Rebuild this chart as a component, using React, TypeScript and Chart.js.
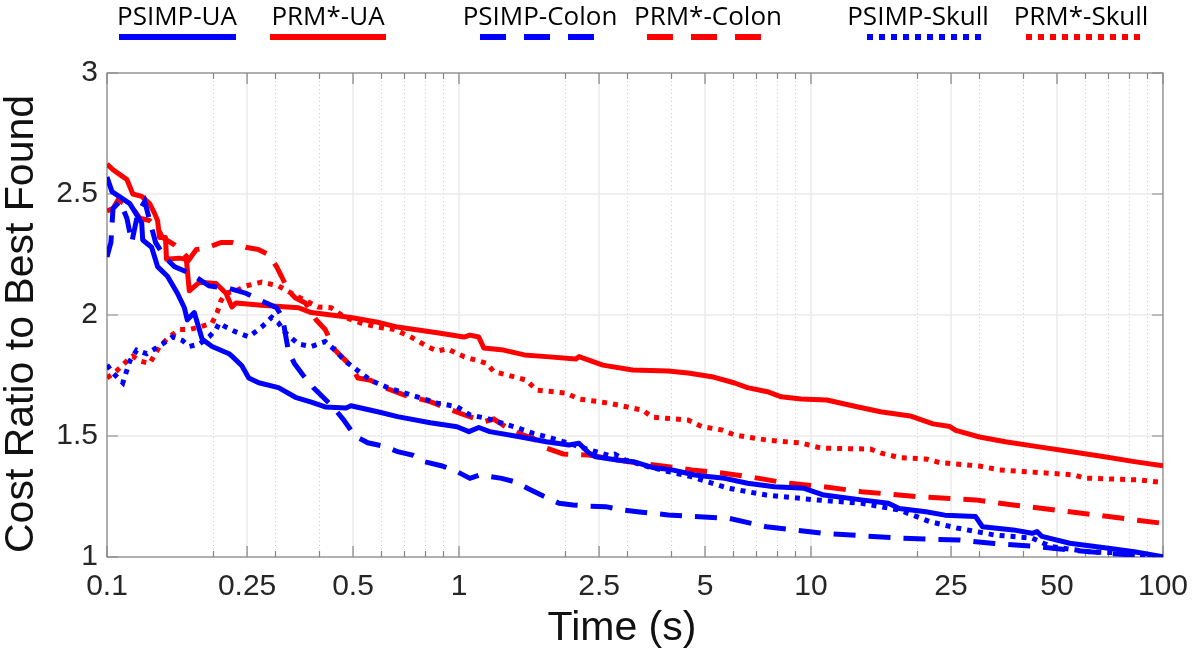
import { useEffect, useRef } from 'react';
import { Chart, registerables } from 'chart.js';

Chart.register(...registerables);

// ---------- data ----------
const xTickValues = [0.1, 0.25, 0.5, 1, 2.5, 5, 10, 25, 50, 100];
const xTickLabels = ['0.1', '0.25', '0.5', '1', '2.5', '5', '10', '25', '50', '100'];
const xMinorValues = [0.2, 0.3, 0.4, 0.6, 0.7, 0.8, 0.9, 2, 3, 4, 6, 7, 8, 9, 20, 30, 40, 60, 70, 80, 90];
const yTickValues = [1, 1.5, 2, 2.5, 3];
const yTickLabels = ['1', '1.5', '2', '2.5', '3'];

const seriesNames = ['PSIMP-UA', 'PRM*-UA', 'PSIMP-Colon', 'PRM*-Colon', 'PSIMP-Skull', 'PRM*-Skull'];

const psimpUaTime = [0.1, 0.1033, 0.1161, 0.1255, 0.1263, 0.1339, 0.1392, 0.1485, 0.1585, 0.1659, 0.1691, 0.177, 0.1864, 0.1989, 0.2222, 0.2264, 0.2416, 0.2528, 0.2698, 0.3071, 0.343, 0.3805, 0.4167, 0.4774, 0.4932, 0.5875, 0.669, 0.8287, 0.9872, 1.067, 1.138, 1.223, 1.485, 1.77, 2.054, 2.192, 2.339, 2.447, 2.841, 3.131, 3.543, 4.033, 4.681, 5.161, 5.688, 6.602, 7.868, 9.556, 10.88, 13.92, 16.59, 17.81, 21.22, 24.01, 29.35, 30.71, 37.55, 42.48, 43.87, 45.33, 54.36, 70.0, 82.87, 100];
const psimpUaCost = [2.57, 2.51, 2.46, 2.38, 2.31, 2.28, 2.20, 2.16, 2.09, 2.03, 1.98, 2.01, 1.90, 1.87, 1.84, 1.83, 1.79, 1.74, 1.72, 1.70, 1.66, 1.64, 1.62, 1.616, 1.625, 1.60, 1.58, 1.555, 1.538, 1.518, 1.535, 1.518, 1.497, 1.476, 1.463, 1.47, 1.43, 1.414, 1.40, 1.394, 1.37, 1.36, 1.339, 1.332, 1.325, 1.305, 1.29, 1.284, 1.256, 1.236, 1.222, 1.20, 1.187, 1.173, 1.167, 1.125, 1.112, 1.098, 1.105, 1.085, 1.057, 1.036, 1.022, 1.001];

const prmUaTime = [0.1, 0.104, 0.1088, 0.1139, 0.1184, 0.1255, 0.1322, 0.1365, 0.1392, 0.141, 0.1466, 0.1476, 0.1606, 0.168, 0.1713, 0.1828, 0.2041, 0.2178, 0.2264, 0.2324, 0.275, 0.3497, 0.3805, 0.4932, 0.5875, 0.669, 0.867, 1.033, 1.074, 1.138, 1.176, 1.339, 1.534, 1.77, 2.149, 2.192, 2.562, 3.112, 3.93, 4.474, 5.228, 6.069, 6.602, 7.518, 8.232, 9.371, 11.09, 13.22, 15.75, 19.13, 22.22, 24.8, 25.79, 30.12, 35.65, 44.45, 55.06, 68.21, 82.87, 100];
const prmUaCost = [2.624, 2.60, 2.58, 2.56, 2.50, 2.49, 2.46, 2.42, 2.39, 2.32, 2.32, 2.23, 2.235, 2.23, 2.10, 2.135, 2.13, 2.09, 2.033, 2.05, 2.04, 2.03, 2.01, 1.99, 1.97, 1.95, 1.927, 1.909, 1.917, 1.909, 1.864, 1.855, 1.835, 1.828, 1.818, 1.828, 1.793, 1.773, 1.769, 1.76, 1.745, 1.719, 1.70, 1.683, 1.662, 1.653, 1.649, 1.624, 1.60, 1.583, 1.55, 1.539, 1.523, 1.496, 1.476, 1.455, 1.435, 1.414, 1.394, 1.377];

const psimpColonTime = [0.1, 0.1026, 0.104, 0.1088, 0.1139, 0.1176, 0.1223, 0.128, 0.1322, 0.1374, 0.1457, 0.1554, 0.1736, 0.195, 0.2222, 0.248, 0.2733, 0.3032, 0.3152, 0.3277, 0.3407, 0.3612, 0.3854, 0.4112, 0.4387, 0.4683, 0.4899, 0.5061, 0.5506, 0.6186, 0.669, 0.7374, 0.7969, 0.8959, 0.9743, 1.074, 1.146, 1.322, 1.438, 1.585, 1.736, 1.925, 2.108, 2.339, 2.612, 2.916, 3.214, 3.566, 3.93, 4.681, 5.838, 7.468, 10.88, 17.81, 26.46, 33.19, 42.48, 54.36, 70.0, 100];
const psimpColonCost = [2.24, 2.30, 2.44, 2.47, 2.40, 2.30, 2.42, 2.47, 2.39, 2.30, 2.24, 2.20, 2.17, 2.12, 2.11, 2.09, 2.06, 2.03, 1.99, 1.85, 1.80, 1.75, 1.70, 1.66, 1.62, 1.57, 1.53, 1.50, 1.472, 1.456, 1.435, 1.421, 1.394, 1.376, 1.357, 1.325, 1.339, 1.325, 1.311, 1.28, 1.252, 1.222, 1.215, 1.21, 1.208, 1.194, 1.187, 1.18, 1.174, 1.167, 1.16, 1.125, 1.098, 1.078, 1.07, 1.056, 1.045, 1.029, 1.015, 1.0];

const prmColonTime = [0.1, 0.104, 0.1074, 0.1124, 0.1184, 0.1239, 0.1322, 0.1392, 0.1438, 0.1554, 0.1637, 0.1713, 0.1793, 0.1913, 0.2109, 0.2264, 0.248, 0.2698, 0.2879, 0.3032, 0.3131, 0.3277, 0.343, 0.366, 0.393, 0.4167, 0.4444, 0.4623, 0.4932, 0.5161, 0.5615, 0.6147, 0.7, 0.8287, 1.006, 1.176, 1.255, 1.428, 1.627, 1.77, 1.976, 2.339, 3.032, 3.78, 4.592, 5.578, 6.91, 8.393, 10.88, 13.92, 20.15, 29.35, 37.55, 54.36, 70.0, 100];
const prmColonCost = [2.43, 2.44, 2.475, 2.46, 2.44, 2.40, 2.39, 2.36, 2.32, 2.29, 2.26, 2.23, 2.27, 2.277, 2.30, 2.30, 2.28, 2.27, 2.25, 2.20, 2.16, 2.10, 2.07, 2.05, 1.98, 1.94, 1.855, 1.83, 1.79, 1.74, 1.73, 1.70, 1.669, 1.642, 1.594, 1.559, 1.57, 1.518, 1.49, 1.45, 1.426, 1.421, 1.394, 1.376, 1.36, 1.347, 1.328, 1.307, 1.29, 1.27, 1.249, 1.236, 1.215, 1.187, 1.167, 1.139];

const psimpSkullTime = [0.1, 0.104, 0.1109, 0.1161, 0.1215, 0.1297, 0.1348, 0.1438, 0.1535, 0.1637, 0.1713, 0.1828, 0.195, 0.2041, 0.2082, 0.2178, 0.2324, 0.2528, 0.275, 0.2935, 0.3071, 0.3214, 0.3497, 0.3805, 0.4167, 0.4444, 0.4745, 0.5161, 0.5615, 0.6269, 0.7278, 0.867, 0.9872, 1.074, 1.199, 1.428, 1.627, 1.77, 2.054, 2.192, 2.447, 2.663, 2.769, 2.973, 3.451, 3.93, 4.562, 4.898, 5.838, 7.468, 10.33, 13.92, 17.81, 21.78, 25.96, 33.19, 42.48, 48.05, 61.47, 79.17, 100];
const psimpSkullCost = [1.793, 1.76, 1.72, 1.81, 1.855, 1.84, 1.855, 1.88, 1.91, 1.895, 1.87, 1.88, 1.91, 1.94, 1.967, 1.95, 1.93, 1.91, 1.95, 1.99, 1.967, 1.926, 1.88, 1.87, 1.89, 1.855, 1.81, 1.77, 1.73, 1.70, 1.67, 1.636, 1.621, 1.587, 1.573, 1.539, 1.511, 1.497, 1.47, 1.456, 1.435, 1.42, 1.425, 1.40, 1.373, 1.353, 1.332, 1.318, 1.284, 1.256, 1.236, 1.222, 1.194, 1.146, 1.12, 1.091, 1.078, 1.043, 1.022, 1.016, 1.0];

const prmSkullTime = [0.1, 0.1067, 0.1139, 0.1184, 0.1239, 0.1322, 0.141, 0.1505, 0.1606, 0.1713, 0.1828, 0.1989, 0.2055, 0.2109, 0.2178, 0.2324, 0.248, 0.275, 0.3071, 0.3341, 0.366, 0.3981, 0.433, 0.4745, 0.5262, 0.5875, 0.656, 0.7278, 0.8126, 0.867, 0.9251, 1.033, 1.199, 1.255, 1.554, 1.659, 2.015, 2.192, 2.663, 3.32, 3.543, 4.474, 4.898, 5.578, 6.069, 7.518, 9.371, 10.67, 14.76, 15.75, 17.93, 21.22, 23.24, 30.12, 34.3, 56.15, 59.92, 86.7, 100];
const prmSkullCost = [1.74, 1.77, 1.81, 1.83, 1.81, 1.80, 1.87, 1.91, 1.94, 1.94, 1.95, 1.967, 2.01, 2.06, 2.09, 2.10, 2.12, 2.136, 2.12, 2.09, 2.06, 2.033, 2.03, 1.99, 1.967, 1.95, 1.94, 1.91, 1.87, 1.851, 1.86, 1.828, 1.80, 1.766, 1.731, 1.69, 1.677, 1.653, 1.636, 1.607, 1.578, 1.566, 1.539, 1.525, 1.504, 1.483, 1.471, 1.45, 1.446, 1.43, 1.41, 1.405, 1.39, 1.376, 1.36, 1.339, 1.326, 1.318, 1.307];

// ---------- styles ----------
const BLUE = '#0000ff';
const RED = '#ff0000';
const SOLID: number[] = [];
const DASHED = [22, 13];
const DOTTED = [5, 6];

const toPoints = (t: number[], c: number[]) => t.map((v, i) => ({ x: v, y: c[i] }));

const legendLayout = [
  { name: seriesNames[0], color: BLUE, dash: SOLID, textX: 177, x0: 119, x1: 236 },
  { name: seriesNames[1], color: RED, dash: SOLID, textX: 328, x0: 270, x1: 386 },
  { name: seriesNames[2], color: BLUE, dash: [26, 18], textX: 540, x0: 480, x1: 594 },
  { name: seriesNames[3], color: RED, dash: [26, 18], textX: 708, x0: 647, x1: 761 },
  { name: seriesNames[4], color: BLUE, dash: [6, 6], textX: 918, x0: 867, x1: 983 },
  { name: seriesNames[5], color: RED, dash: [6, 6], textX: 1081, x0: 1026, x1: 1142 },
];

const axesPlugin = {
  id: 'matlabAxes',
  beforeDatasetsDraw(chart: any) {
    const { ctx, chartArea: a, scales } = chart;
    const xs = scales.x;
    const ys = scales.y;
    ctx.save();
    // minor dotted grid
    ctx.lineWidth = 1;
    ctx.strokeStyle = '#cfcfcf';
    ctx.setLineDash([1, 3]);
    for (const v of xMinorValues) {
      const px = Math.round(xs.getPixelForValue(v)) + 0.5;
      ctx.beginPath();
      ctx.moveTo(px, a.top);
      ctx.lineTo(px, a.bottom);
      ctx.stroke();
    }
    ctx.setLineDash([]);
    // major grid
    ctx.strokeStyle = '#ebebeb';
    ctx.lineWidth = 1.5;
    for (const v of xTickValues) {
      const px = xs.getPixelForValue(v);
      ctx.beginPath();
      ctx.moveTo(px, a.top);
      ctx.lineTo(px, a.bottom);
      ctx.stroke();
    }
    for (const v of yTickValues) {
      const py = ys.getPixelForValue(v);
      ctx.beginPath();
      ctx.moveTo(a.left, py);
      ctx.lineTo(a.right, py);
      ctx.stroke();
    }
    // box
    ctx.strokeStyle = '#858585';
    ctx.lineWidth = 1.2;
    ctx.strokeRect(a.left, a.top, a.right - a.left, a.bottom - a.top);
    // tick marks (inside)
    ctx.beginPath();
    for (const v of xTickValues) {
      const px = xs.getPixelForValue(v);
      ctx.moveTo(px, a.bottom); ctx.lineTo(px, a.bottom - 11);
      ctx.moveTo(px, a.top); ctx.lineTo(px, a.top + 11);
    }
    for (const v of xMinorValues) {
      const px = Math.round(xs.getPixelForValue(v)) + 0.5;
      ctx.moveTo(px, a.bottom); ctx.lineTo(px, a.bottom - 6);
      ctx.moveTo(px, a.top); ctx.lineTo(px, a.top + 6);
    }
    for (const v of yTickValues) {
      const py = ys.getPixelForValue(v);
      ctx.moveTo(a.left, py); ctx.lineTo(a.left + 11, py);
      ctx.moveTo(a.right, py); ctx.lineTo(a.right - 11, py);
    }
    ctx.stroke();
    ctx.restore();
  },
  afterDraw(chart: any) {
    const { ctx } = chart;
    ctx.save();
    // axis titles
    ctx.fillStyle = '#111111';
    ctx.font = '41px "Liberation Sans", Arial, sans-serif';
    ctx.textAlign = 'center';
    ctx.textBaseline = 'alphabetic';
    ctx.fillText('Time (s)', 622, 640);
    ctx.save();
    ctx.translate(33, 324);
    ctx.rotate(-Math.PI / 2);
    ctx.fillText('Cost Ratio to Best Found', 0, 0);
    ctx.restore();
    // legend
    ctx.font = '26px "Open Sans", sans-serif';
    ctx.fillStyle = '#000000';
    for (const item of legendLayout) {
      ctx.fillText(item.name, item.textX, 25);
      ctx.beginPath();
      ctx.strokeStyle = item.color;
      ctx.lineWidth = 6;
      ctx.lineCap = 'butt';
      ctx.setLineDash(item.dash);
      ctx.moveTo(item.x0, 37);
      ctx.lineTo(item.x1, 37);
      ctx.stroke();
    }
    ctx.restore();
  },
};

export default function App() {
  const ref = useRef<HTMLCanvasElement | null>(null);

  useEffect(() => {
    if (!ref.current) return;
    const mk = (label: string, t: number[], c: number[], color: string, dash: number[], width: number) => ({
      label,
      data: toPoints(t, c),
      borderColor: color,
      backgroundColor: color,
      borderWidth: width,
      borderDash: dash,
      borderCapStyle: 'butt' as const,
      borderJoinStyle: (dash.length ? 'miter' : 'round') as any,
      pointRadius: 0,
      tension: 0,
      fill: false,
    });
    const chart = new Chart(ref.current, {
      type: 'line',
      data: {
        datasets: [
          mk(seriesNames[0], psimpUaTime, psimpUaCost, BLUE, SOLID, 5),
          mk(seriesNames[4], psimpSkullTime, psimpSkullCost, BLUE, DOTTED, 5),
          mk(seriesNames[2], psimpColonTime, psimpColonCost, BLUE, DASHED, 5),
          mk(seriesNames[1], prmUaTime, prmUaCost, RED, SOLID, 5),
          mk(seriesNames[5], prmSkullTime, prmSkullCost, RED, DOTTED, 5),
          mk(seriesNames[3], prmColonTime, prmColonCost, RED, DASHED, 5),
        ],
      },
      options: {
        responsive: false,
        animation: false,
        devicePixelRatio: 1,
        layout: { padding: { left: 0, right: 28, top: 73, bottom: 0 } },
        plugins: { legend: { display: false }, tooltip: { enabled: false }, title: { display: false } },
        scales: {
          x: {
            type: 'logarithmic',
            min: 0.1,
            max: 100,
            afterBuildTicks: (s: any) => { s.ticks = xTickValues.map((v) => ({ value: v })); },
            afterFit: (s: any) => { s.height = 94; },
            grid: { display: false, drawTicks: false },
            border: { display: false },
            ticks: {
              autoSkip: false,
              maxRotation: 0,
              padding: 12,
              color: '#262626',
              font: { family: '"Liberation Sans", Arial, sans-serif', size: 30 },
              callback: (_v: any, i: number) => xTickLabels[i],
            },
          },
          y: {
            type: 'linear',
            min: 1,
            max: 3,
            afterBuildTicks: (s: any) => { s.ticks = yTickValues.map((v) => ({ value: v })); },
            afterFit: (s: any) => { s.width = 107; },
            grid: { display: false, drawTicks: false },
            border: { display: false },
            ticks: {
              padding: 9,
              color: '#262626',
              font: { family: '"Liberation Sans", Arial, sans-serif', size: 30 },
              callback: (_v: any, i: number) => yTickLabels[i],
            },
          },
        },
      },
      plugins: [axesPlugin],
    });
    return () => chart.destroy();
  }, []);

  return (
    <div style={{ position: 'absolute', left: 0, top: 0, width: 1200, height: 651, background: '#ffffff' }}>
      <canvas ref={ref} width={1200} height={651} style={{ display: 'block', width: 1200, height: 651 }} />
    </div>
  );
}
